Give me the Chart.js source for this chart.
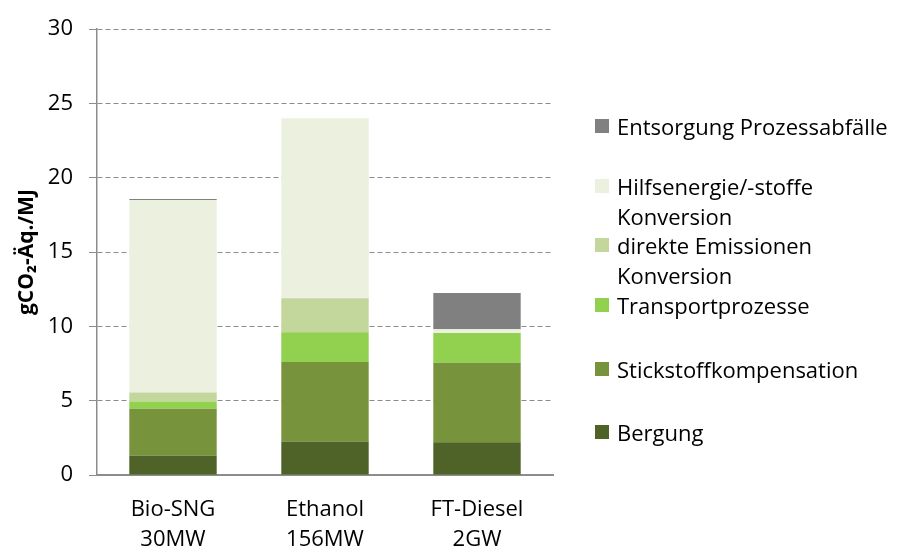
<!DOCTYPE html>
<html>
<head>
<meta charset="utf-8">
<script src="https://cdn.jsdelivr.net/npm/chart.js@4/dist/chart.umd.min.js"></script>
<style>
  html, body { margin: 0; padding: 0; background: #fff; }
  #wrap { position: relative; width: 900px; height: 552px; }
  #legend { position: absolute; left: 595px; top: 0; font-family: "Open Sans", sans-serif; font-size: 22px; color: #000; }
  .item { position: absolute; left: 0; white-space: nowrap; }
  .sw { position: absolute; left: 0; width: 14px; height: 14px; }
  .txt { position: absolute; left: 22px; line-height: 30px; }
</style>
</head>
<body>
<div id="wrap">
  <canvas id="c" width="900" height="552"></canvas>
  <div id="legend"></div>
</div>
<script>
// Categories (two-line axis labels)
const categories = [['Bio-SNG', '30MW'], ['Ethanol', '156MW'], ['FT-Diesel', '2GW']];

// Emission contributions in gCO2-Äq./MJ, stacked bottom to top
const bergung         = [1.3, 2.25, 2.2];
const stickstoff      = [3.15, 5.35, 5.35];
const transport       = [0.5, 2.0, 2.0];
const direkte         = [0.6, 2.3, 0.0];
const hilfsenergie    = [12.95, 12.1, 0.25];
const entsorgung      = [0.08, 0.0, 2.45];

const seriesNames = [
  'Bergung',
  'Stickstoffkompensation',
  'Transportprozesse',
  'direkte Emissionen Konversion',
  'Hilfsenergie/-stoffe Konversion',
  'Entsorgung Prozessabfälle'
];
const seriesValues = [bergung, stickstoff, transport, direkte, hilfsenergie, entsorgung];
const seriesColors = ['#4F6228', '#77933C', '#92D050', '#C3D69B', '#EBF1DE', '#808080'];

const yTicks = [0, 5, 10, 15, 20, 25, 30];

const FONT = '"Open Sans", sans-serif';

const datasets = seriesNames.map((name, i) => ({
  label: name,
  data: seriesValues[i],
  backgroundColor: seriesColors[i],
  borderWidth: 0,
  categoryPercentage: 0.575,
  barPercentage: 1.0
}));

new Chart(document.getElementById('c'), {
  type: 'bar',
  data: { labels: categories, datasets },
  options: {
    responsive: false,
    animation: false,
    layout: { padding: { left: 6, top: 28, right: 347, bottom: 0 } },
    plugins: { legend: { display: false }, tooltip: { enabled: false } },
    scales: {
      x: {
        stacked: true,
        grid: { display: false, drawTicks: false },
        border: { display: true, color: '#8c8c8c', width: 2 },
        ticks: {
          color: '#000',
          padding: 20,
          font: { family: FONT, size: 22, lineHeight: 1.37 },
          maxRotation: 0
        },
        afterFit: (s) => { s.height = 77; }
      },
      y: {
        stacked: true,
        min: 0,
        max: 30,
        afterBuildTicks: (s) => { s.ticks = yTicks.map(v => ({ value: v })); },
        grid: {
          color: '#8c8c8c',
          lineWidth: 1,
          drawTicks: true,
          tickLength: 8,
          tickColor: '#8c8c8c'
        },
        border: { display: true, color: '#8c8c8c', width: 1.5, dash: [5, 3] },
        ticks: {
          color: '#000',
          padding: 16,
          font: { family: FONT, size: 22 }
        },
        title: {
          display: true,
          text: 'gCO₂-Äq./MJ',
          color: '#000',
          padding: { top: 8, bottom: 0 },
          font: { family: FONT, size: 21, weight: 'bold' }
        },
        afterFit: (s) => { s.width = 91; }
      }
    }
  }
});

// Legend at the right, top entry is the top-most stack segment
const legendEntries = [
  { idx: 5, lines: ['Entsorgung Prozessabfälle'], y: 126 },
  { idx: 4, lines: ['Hilfsenergie/-stoffe', 'Konversion'], y: 186 },
  { idx: 3, lines: ['direkte Emissionen', 'Konversion'], y: 245 },
  { idx: 2, lines: ['Transportprozesse'], y: 305 },
  { idx: 1, lines: ['Stickstoffkompensation'], y: 369 },
  { idx: 0, lines: ['Bergung'], y: 432 }
];
const legend = document.getElementById('legend');
legendEntries.forEach(e => {
  const item = document.createElement('div');
  item.className = 'item';
  item.style.top = (e.y - 15) + 'px';
  const sw = document.createElement('div');
  sw.className = 'sw';
  sw.style.top = '8px';
  sw.style.background = seriesColors[e.idx];
  const txt = document.createElement('div');
  txt.className = 'txt';
  txt.innerHTML = e.lines.join('<br>');
  item.appendChild(sw);
  item.appendChild(txt);
  legend.appendChild(item);
});
</script>
</body>
</html>
